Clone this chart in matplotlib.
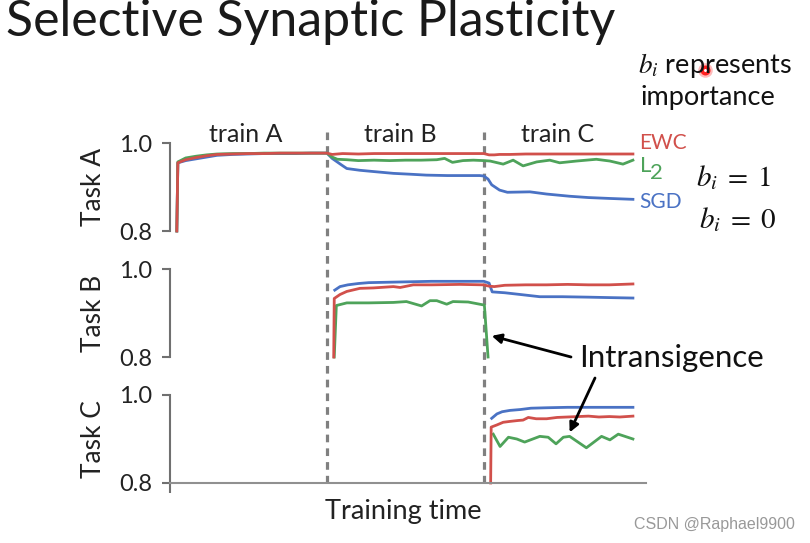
import matplotlib
matplotlib.use('Agg')
import matplotlib.pyplot as plt

plt.rcParams['font.family'] = ['Lato', 'DejaVu Sans']
plt.rcParams['mathtext.fontset'] = 'stix'

# training phases (time in arbitrary units, one phase = 30)
boundaries = [30, 60]
phase_names = ['train A', 'train B', 'train C']
phase_pos = [14.5, 44, 74]
task_names = ['Task A', 'Task B', 'Task C']
methods = ['EWC', 'L2', 'SGD']

# ---- Task A accuracy ----
tA_ewc = [1.3, 1.5, 3, 5, 7, 9, 12, 15, 18, 21, 24, 27, 30, 31, 33, 36, 39, 42, 45, 48, 51, 54, 57, 60,
          61, 62, 63, 65, 68, 72, 76, 80, 84, 88.5]
A_ewc = [0.80, 0.955, 0.962, 0.967, 0.971, 0.974, 0.975, 0.976, 0.976, 0.977, 0.977, 0.977, 0.977, 0.974,
         0.976, 0.975, 0.976, 0.976, 0.976, 0.976, 0.976, 0.976, 0.976, 0.976,
         0.973, 0.973, 0.974, 0.974, 0.975, 0.975, 0.975, 0.975, 0.975, 0.975]
tA_l2 = [1.3, 1.5, 3, 5, 7, 9, 12, 15, 18, 21, 24, 27, 30, 31, 32, 33.8, 36, 39, 42, 45, 48, 51, 52.5, 54,
         56, 58, 60, 61.2, 63.7, 65.6, 67.5, 70.1, 72.6, 74.5, 77.7, 81.5, 84.1, 86.6, 88.5]
A_l2 = [0.80, 0.957, 0.966, 0.970, 0.973, 0.975, 0.976, 0.976, 0.977, 0.977, 0.977, 0.977, 0.977, 0.968,
        0.963, 0.962, 0.960, 0.961, 0.960, 0.961, 0.961, 0.962, 0.965, 0.956,
        0.960, 0.961, 0.960, 0.959, 0.952, 0.961, 0.948, 0.957, 0.961, 0.955, 0.959, 0.963, 0.959, 0.952, 0.961]
tA_sgd = [1.3, 1.5, 3, 5, 7, 9, 12, 15, 18, 21, 24, 27, 30, 31, 32.8, 33.8, 36.3, 39, 42.7, 46, 49, 53, 56, 59.2,
          60, 60.8, 61.5, 63, 64.5, 68.8, 72, 76.4, 80, 84, 88.5]
A_sgd = [0.80, 0.955, 0.960, 0.964, 0.968, 0.972, 0.974, 0.975, 0.976, 0.976, 0.976, 0.977, 0.977, 0.965,
         0.950, 0.942, 0.938, 0.935, 0.931, 0.929, 0.927, 0.926, 0.926, 0.926,
         0.925, 0.918, 0.905, 0.893, 0.888, 0.889, 0.884, 0.879, 0.876, 0.874, 0.872]

# ---- Task B accuracy ----
tB_ewc = [31.3, 31.4, 32.5, 33.8, 36.3, 38.9, 42.7, 44, 46.5, 50, 55.4, 59.9, 61, 62, 64, 68, 72, 76, 80, 84, 88.5]
B_ewc = [0.80, 0.933, 0.942, 0.949, 0.956, 0.957, 0.960, 0.958, 0.964, 0.964, 0.965, 0.964,
         0.961, 0.960, 0.963, 0.964, 0.964, 0.965, 0.964, 0.964, 0.966]
tB_l2 = [31.4, 31.8, 33.8, 38, 42.7, 45.2, 48.1, 49.7, 51, 52.9, 54.1, 57, 59.2, 60.1, 60.8]
B_l2 = [0.80, 0.917, 0.923, 0.923, 0.924, 0.926, 0.916, 0.928, 0.928, 0.920, 0.926, 0.925, 0.920, 0.918, 0.80]
tB_sgd = [31.5, 32.5, 34, 36, 38, 42, 46, 50, 54, 58, 60, 61, 61.6, 64, 67, 70.7, 75, 80, 84, 88.5]
B_sgd = [0.952, 0.960, 0.964, 0.967, 0.969, 0.970, 0.971, 0.972, 0.972, 0.972, 0.972, 0.968,
         0.948, 0.946, 0.942, 0.937, 0.937, 0.936, 0.935, 0.934]

# ---- Task C accuracy ----
tC_ewc = [61.3, 61.4, 62.5, 63.7, 65, 66.5, 67.5, 68.5, 70, 72, 74, 76, 78, 80, 82, 84, 86, 88.5]
C_ewc = [0.80, 0.927, 0.932, 0.938, 0.940, 0.942, 0.943, 0.949, 0.946, 0.946, 0.949, 0.950,
         0.951, 0.952, 0.950, 0.951, 0.950, 0.952]
tC_l2 = [61.8, 63.1, 64.7, 66.3, 67.8, 70.7, 72.3, 73.8, 75.2, 76.4, 79.6, 82.5, 84.1, 85.7, 88.5]
C_l2 = [0.911, 0.883, 0.904, 0.900, 0.893, 0.906, 0.904, 0.889, 0.904, 0.906, 0.880, 0.906, 0.898, 0.911, 0.900]
tC_sgd = [61.5, 62.5, 63.5, 65, 67, 69, 72, 76, 80, 84, 88.5]
C_sgd = [0.947, 0.957, 0.962, 0.965, 0.967, 0.970, 0.971, 0.972, 0.972, 0.972, 0.972]

yticks = [0.8, 1.0]
ytick_labels = ['0.8', '1.0']

colors = {'EWC': '#d1504b', 'L2': '#4ea35a', 'SGD': '#4a72c4'}
panels = [
    {'EWC': (tA_ewc, A_ewc), 'L2': (tA_l2, A_l2), 'SGD': (tA_sgd, A_sgd)},
    {'EWC': (tB_ewc, B_ewc), 'L2': (tB_l2, B_l2), 'SGD': (tB_sgd, B_sgd)},
    {'EWC': (tC_ewc, C_ewc), 'L2': (tC_l2, C_l2), 'SGD': (tC_sgd, C_sgd)},
]

W, H = 810, 543


def box(left, top, right, bottom):
    return [left / W, 1 - bottom / H, (right - left) / W, (bottom - top) / H]


fig = plt.figure(figsize=(W / 100, H / 100), dpi=100)
XLIM = (0, 91)

# dashed phase boundaries across all three panels
ax_d = fig.add_axes(box(170, 132, 646, 483), zorder=0)
ax_d.set_xlim(XLIM)
ax_d.axis('off')
for b in boundaries:
    ax_d.axvline(b, color='#808080', lw=2.3, linestyle=(0, (2.4, 1.9)))

# page overlay in pixel coordinates for slide text
ax_p = fig.add_axes([0, 0, 1, 1], zorder=-1)
ax_p.set_xlim(0, W)
ax_p.set_ylim(H, 0)
ax_p.axis('off')

tops = [143, 269, 395]
axes = []
for i, (top, name, data) in enumerate(zip(tops, task_names, panels)):
    ax = fig.add_axes(box(170, top, 646, top + 88), zorder=2)
    ax.patch.set_alpha(0)
    for m in ['SGD', 'L2', 'EWC']:
        t, v = data[m]
        ax.plot(t, v, color=colors[m], lw=2, clip_on=False, solid_joinstyle='round')
    ax.set_xlim(XLIM)
    ax.set_ylim(0.8, 1.0)
    ax.set_yticks(yticks)
    ax.set_yticklabels(ytick_labels)
    ax.tick_params(axis='y', direction='out', length=6, width=1.5, color='#707070',
                   labelsize=17, labelcolor='#222222', pad=7)
    ax.spines['left'].set_color('#707070')
    ax.spines['left'].set_linewidth(1.5)
    for s in ['top', 'right']:
        ax.spines[s].set_visible(False)
    if i < 2:
        ax.spines['bottom'].set_visible(False)
        ax.set_xticks([])
    else:
        ax.spines['bottom'].set_color('#909090')
        ax.spines['bottom'].set_linewidth(1.5)
        ax.set_xticks([0])
        ax.set_xticklabels([''])
        ax.tick_params(axis='x', direction='out', length=7, width=1.5, color='#707070')
    ax.set_ylabel(name, fontsize=19, color='#222222', labelpad=9)
    axes.append(ax)

for x, name in zip(phase_pos, phase_names):
    axes[0].text(x, 1.095, name, ha='center', va='center', fontsize=18, color='#222222',
                 transform=axes[0].get_xaxis_transform(), clip_on=False)

# slide text
ax_p.text(6, 22, 'Selective Synaptic Plasticity', fontsize=36, ha='left', va='center',
          color='#1a1a1a', fontweight='normal')
ax_p.text(638, 65, r'$b_i$ represents', fontsize=19.5, ha='left', va='center', color='#111111')
ax_p.text(640, 97, 'importance', fontsize=19.5, ha='left', va='center', color='#111111')
ax_p.scatter([705], [70], s=110, color='#ff2020', alpha=0.3, lw=0)
ax_p.scatter([705], [70], s=22, facecolor='white', edgecolor='#ff2020', lw=2.5)

ax_p.text(639, 143, 'EWC', fontsize=15, color=colors['EWC'], ha='left', va='center')
ax_p.text(640, 166, 'L', fontsize=16, color=colors['L2'], ha='left', va='center')
ax_p.text(650, 173, '2', fontsize=16, color=colors['L2'], ha='left', va='center')
ax_p.text(639, 202, 'SGD', fontsize=15, color=colors['SGD'], ha='left', va='center')
ax_p.text(696, 178, r'$b_i\;=\;1$', fontsize=21, color='#111111', ha='left', va='center')
ax_p.text(699, 220, r'$b_i\;=\;0$', fontsize=21, color='#111111', ha='left', va='center')

ax_p.text(579, 358, 'Intransigence', fontsize=22.5, color='#111111', ha='left', va='center')
arrow = dict(arrowstyle='-|>', color='black', lw=2, mutation_scale=14, shrinkA=0, shrinkB=0)
axes[1].annotate('', xy=(61.5, 0.848), xycoords='data', xytext=(571, 357),
                 textcoords=ax_p.transData, arrowprops=arrow)
axes[2].annotate('', xy=(76.4, 0.915), xycoords='data', xytext=(595, 378),
                 textcoords=ax_p.transData, arrowprops=arrow)

ax_p.text(403, 512, 'Training time', fontsize=19.5, color='#222222', ha='center', va='center')
ax_p.text(795, 524, 'CSDN @Raphael9900', fontsize=11.5, color='#999999', ha='right', va='center',
          family=['Liberation Sans', 'DejaVu Sans'])

fig.savefig('out.png', dpi=100)
